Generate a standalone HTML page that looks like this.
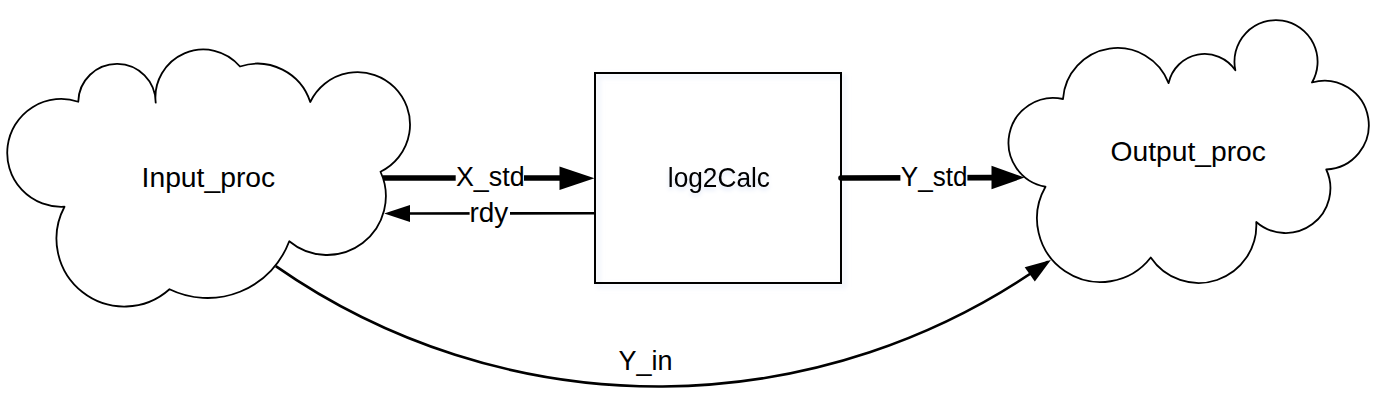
<!DOCTYPE html>
<html><head><meta charset="utf-8"><title>Diagram</title>
<style>
html,body{margin:0;padding:0;background:#fff;}
body{width:1374px;height:400px;overflow:hidden;}
svg{display:block;}
text{font-family:"Liberation Sans",sans-serif;font-size:27.5px;fill:#000;}
</style></head><body>
<svg width="1374" height="400" viewBox="0 0 1374 400">
<defs>
<filter id="soft" x="-10%" y="-10%" width="120%" height="120%"><feGaussianBlur stdDeviation="2.2"/></filter>
</defs>
<rect x="0" y="0" width="1374" height="400" fill="#fff"/>
<!-- clouds -->
<g fill="#fff" stroke="#000" stroke-width="1.8" stroke-linejoin="round">
<path d="M64.50 206.75 A53.94 53.94 0 1 1 78.25 101.75 A38.73 38.73 0 0 1 155.70 102.70 A47.96 47.96 0 0 1 240.00 66.50 A55.53 55.53 0 0 1 310.25 102.00 A52.44 52.44 0 1 1 380.50 171.75 A58.79 58.79 0 0 1 289.25 241.25 A87.17 87.17 0 0 1 169.50 289.25 A67.80 67.80 0 0 1 64.50 206.75Z"/>
<path d="M1045.50 186.75 A44.75 44.75 0 1 1 1063.00 99.00 A54.67 54.67 0 0 1 1168.60 83.10 A36.95 36.95 0 0 1 1235.35 70.30 A41.57 41.57 0 1 1 1312.00 82.50 A44.40 44.40 0 1 1 1326.25 169.50 A44.73 44.73 0 0 1 1256.25 222.00 A57.71 57.71 0 0 1 1150.75 257.50 A63.56 63.56 0 0 1 1045.50 186.75Z"/>
</g>
<!-- box -->
<rect x="595" y="73" width="246" height="210" fill="#fff"/>
<rect x="598.5" y="76.5" width="246" height="210" fill="none" stroke="#f1f4fb" stroke-width="4" filter="url(#soft)"/>
<rect x="595" y="73" width="246" height="210" fill="none" stroke="#000" stroke-width="2"/>
<!-- Y_in curve -->
<path d="M275.75 266.1 A669.16 669.16 0 0 0 1048.00 261.50" fill="none" stroke="#000" stroke-width="2.6"/>
<polygon points="1050.9,260 1024.7,267.3 1034.8,281.4" fill="#000"/>
<!-- X_std -->
<line x1="383" y1="178" x2="562" y2="178" stroke="#000" stroke-width="5.6"/>
<polygon points="594.5,178.2 559.5,166.4 559.5,189.9" fill="#000"/>
<rect x="455.7" y="164" width="68.3" height="28" fill="#fff"/>
<text x="455.91" y="186.40" textLength="68.76" lengthAdjust="spacingAndGlyphs">X_std</text>
<!-- rdy -->
<line x1="408" y1="213.5" x2="595" y2="213.2" stroke="#000" stroke-width="2.6"/>
<polygon points="384.2,213.5 410,205 410,222" fill="#000"/>
<rect x="469.6" y="200" width="40.4" height="28" fill="#fff"/>
<text x="469.44" y="221.80" textLength="38.76" lengthAdjust="spacingAndGlyphs">rdy</text>
<!-- Y_std -->
<line x1="841" y1="178" x2="993" y2="177.6" stroke="#000" stroke-width="5.6" stroke-linecap="round"/>
<polygon points="1024.5,177.6 991.5,165.8 991.5,189.2" fill="#000"/>
<rect x="900.4" y="164" width="67" height="28" fill="#fff"/>
<text x="900.79" y="186.40" textLength="66.71" lengthAdjust="spacingAndGlyphs">Y_std</text>
<!-- labels -->
<text x="141.58" y="186.70" textLength="133.60" lengthAdjust="spacingAndGlyphs">Input_proc</text>
<text x="667.82" y="186.80" textLength="102.19" lengthAdjust="spacingAndGlyphs" style="filter:drop-shadow(0px 3px 2px #dde5f6)">log2Calc</text>
<text x="1110.62" y="161.00" textLength="155.30" lengthAdjust="spacingAndGlyphs">Output_proc</text>
<text x="618.40" y="369.90" textLength="54.07" lengthAdjust="spacingAndGlyphs">Y_in</text>
</svg>
</body></html>
